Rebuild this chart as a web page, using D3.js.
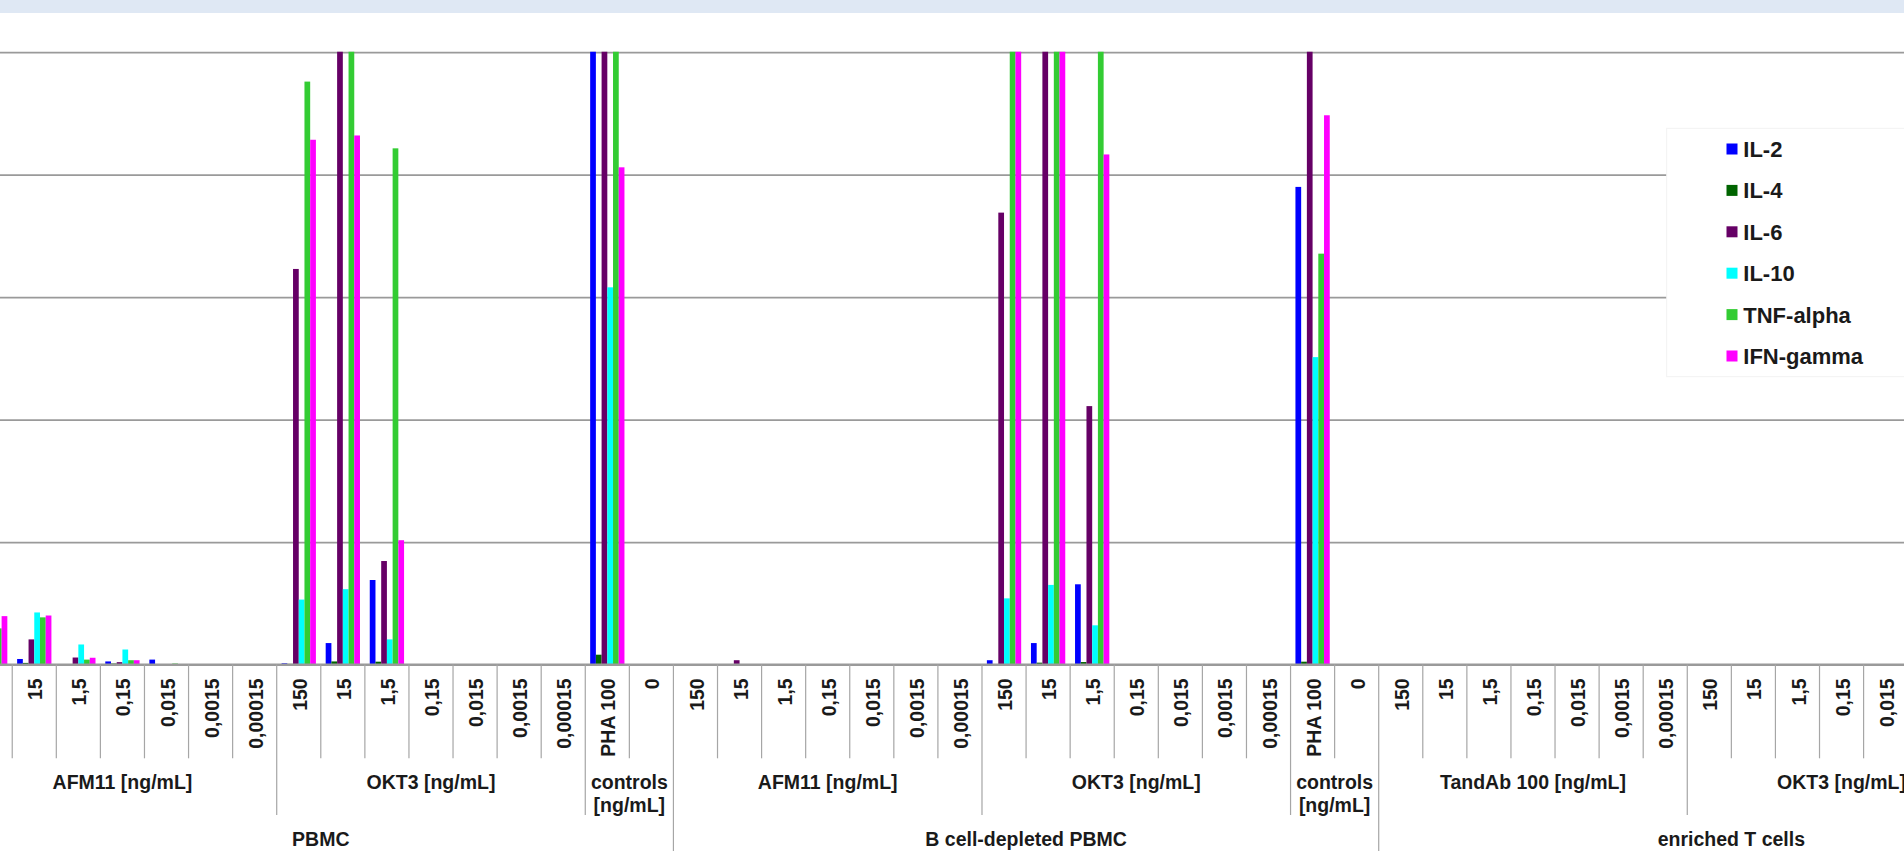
<!DOCTYPE html>
<html><head><meta charset="utf-8">
<script src="https://cdn.jsdelivr.net/npm/d3@7/dist/d3.min.js"></script>
<style>html,body{margin:0;padding:0;background:#fff;overflow:hidden}svg{display:block}</style>
</head><body>
<svg id="chart" width="1904" height="863"></svg>
<script>
// ---------- data ----------
const cellTypes = ["PBMC", "B cell-depleted PBMC", "enriched T cells"];
const treatments = [
  ["AFM11 [ng/mL]", "OKT3 [ng/mL]", "controls [ng/mL]"],
  ["AFM11 [ng/mL]", "OKT3 [ng/mL]", "controls [ng/mL]"],
  ["TandAb 100 [ng/mL]", "OKT3 [ng/mL]", "controls [ng/mL]"]
];
const doses = ["150", "15", "1,5", "0,15", "0,015", "0,0015", "0,00015"];
const controlDoses = ["PHA 100", "0"];
const seriesNames = ["IL-2", "IL-4", "IL-6", "IL-10", "TNF-alpha", "IFN-gamma"];
const seriesColors = ["#0000ff", "#006400", "#660066", "#00ffff", "#33cc33", "#ff00ff"];
const yTicks = [0, 200, 400, 600, 800, 1000];

// values per category (PBMC: AFM11 x7, OKT3 x7, controls x2; B cell-depleted: same; enriched T cells: TandAb x7, OKT3 x7, controls x2)
const il2 = [5, 9, 0.5, 5, 8, 0, 0,   2, 35, 138, 0, 0, 0, 0,   1400, 0,
             0, 0, 0, 0, 0, 0, 0,     7, 35, 131, 0, 0, 0, 0,   780, 0,
             0, 0, 0, 0, 0, 0, 0,     0, 0, 0, 0, 0, 0, 0,      0, 0];
const il4 = [2, 2.6, 0.5, 1.6, 0, 0, 0,  1, 5, 4.6, 0, 0, 0, 0,  16, 0,
             0, 0, 0, 0, 0, 0, 0,        0, 3, 4, 0, 0, 0, 0,    4.6, 0,
             0, 0, 0, 0, 0, 0, 0,        0, 0, 0, 0, 0, 0, 0,    0, 0];
const il6 = [30, 41, 11.4, 3.8, 0, 0, 0,  646, 1400, 169, 0, 0, 0, 0,  1400, 0,
             0, 7, 0, 0, 0, 0, 0,         738, 1400, 422, 0, 0, 0, 0,  1400, 0,
             0, 0, 0, 0, 0, 0, 0,         0, 0, 0, 0, 0, 0, 0,         0, 0];
const il10 = [60, 85, 32.7, 24.5, 0, 0, 0,  106, 123, 41, 0, 0, 0, 0,  616, 0,
              0, 0, 0, 0, 0, 0, 0,          108, 130, 64, 0, 0, 0, 0,  502, 0,
              0, 0, 0, 0, 0, 0, 0,          0, 0, 0, 0, 0, 0, 0,       0, 0];
const tnfAlpha = [59, 77, 8, 7, 1.6, 0, 0,  952, 1400, 843, 0, 0, 0, 0,  1400, 0,
                  0, 0, 0, 0, 0, 0, 0,      1400, 1400, 1400, 0, 0, 0, 0,  671, 0,
                  0, 0, 0, 0, 0, 0, 0,      0, 0, 0, 0, 0, 0, 0,      0, 0];
const ifnGamma = [79, 80, 11, 7, 0, 0, 0,  857, 864, 203, 0, 0, 0, 0,  812, 0,
                  0, 0, 0, 0, 0, 0, 0,     1400, 1400, 833, 0, 0, 0, 0,  897, 0,
                  0, 0, 0, 0, 0, 0, 0,     0, 0, 0, 0, 0, 0, 0,      0, 0];
const seriesValues = [il2, il4, il6, il10, tnfAlpha, ifnGamma];

// ---------- layout ----------
const W = 1904, H = 863;
const X0 = -31.85, STEP = 44.08;
const Y_BASE = 664.5, Y_TOP = 52.2;
const FONT = "'Liberation Sans', Arial, Helvetica, sans-serif";

const cats = [];
cellTypes.forEach((c, ci) => {
  treatments[ci].forEach((t, ti) => {
    const ds = ti < 2 ? doses : controlDoses;
    ds.forEach(d => cats.push({cell: c, ci, treat: t, ti, dose: d, key: ci + "|" + ti + "|" + d}));
  });
});

const svg = d3.select("#chart");
svg.append("rect").attr("x", 0).attr("y", 0).attr("width", W).attr("height", 13).attr("fill", "#dfe8f4");

const x = d3.scaleBand().domain(cats.map(d => d.key)).range([X0, X0 + cats.length * STEP]).padding(0);
const xs = d3.scaleBand().domain(seriesNames).range([0, x.bandwidth()]).paddingInner(0).paddingOuter(0.856);
const y = d3.scaleLinear().domain([0, 1000]).range([Y_BASE, Y_TOP]);

// gridlines via axis
const grid = svg.append("g").attr("transform", "translate(0,0)")
  .call(d3.axisLeft(y).tickValues(yTicks).tickSize(-W).tickFormat(""));
grid.select(".domain").remove();
grid.selectAll(".tick line").attr("stroke", "#9a9a9a").attr("stroke-width", 1.8);

// clip
svg.append("clipPath").attr("id", "plotclip").append("rect")
  .attr("x", -100).attr("y", Y_TOP - 0.5).attr("width", W + 200).attr("height", Y_BASE - Y_TOP + 0.5);

const barsG = svg.append("g").attr("clip-path", "url(#plotclip)");
seriesNames.forEach((s, si) => {
  barsG.append("g").selectAll("rect")
    .data(cats.map((c, i) => ({c, v: seriesValues[si][i]})).filter(d => d.v > 0))
    .join("rect")
    .attr("x", d => x(d.c.key) + xs(s))
    .attr("width", xs.bandwidth())
    .attr("y", d => y(d.v))
    .attr("height", d => Y_BASE - y(d.v))
    .attr("fill", seriesColors[si]);
});

// x axis baseline
svg.append("line").attr("x1", 0).attr("x2", W).attr("y1", Y_BASE).attr("y2", Y_BASE)
  .attr("stroke", "#9a9a9a").attr("stroke-width", 1.8);

// category boundary lines (multi-level)
const axisG = svg.append("g");
for (let i = 0; i <= cats.length; i++) {
  const bx = X0 + i * STEP;
  let yEnd = 758.3;
  const prev = cats[i - 1], cur = cats[i];
  if (!prev || !cur || prev.ci !== cur.ci) yEnd = 851;
  else if (prev.ti !== cur.ti) yEnd = 815;
  axisG.append("line").attr("x1", bx).attr("x2", bx).attr("y1", Y_BASE).attr("y2", yEnd)
    .attr("stroke", "#a6a6a6").attr("stroke-width", 1.2);
}

// dose labels
axisG.selectAll("text.dose").data(cats).join("text").attr("class", "dose")
  .attr("transform", d => `translate(${x(d.key) + x.bandwidth() / 2 + 1},678.3) rotate(-90)`)
  .attr("text-anchor", "end").attr("dy", "0.36em")
  .attr("font-family", FONT).attr("font-weight", "bold").attr("font-size", "19.5px").attr("fill", "#1a1a1a")
  .text(d => d.dose);

// treatment labels
const groups = d3.groups(cats, d => d.ci + "|" + d.ti).map(([k, arr]) => ({
  label: arr[0].treat, x1: x(arr[0].key), x2: x(arr[arr.length - 1].key) + x.bandwidth(), n: arr.length
}));
groups.forEach(g => {
  const cx = (g.x1 + g.x2) / 2;
  const lines = g.n <= 2 ? g.label.split(" ") : [g.label];
  const t = axisG.append("text").attr("x", cx).attr("y", 781.7).attr("dy", "0.36em")
    .attr("text-anchor", "middle").attr("font-family", FONT).attr("font-weight", "bold")
    .attr("font-size", "19.5px").attr("fill", "#1a1a1a");
  lines.forEach((ln, li) => t.append("tspan").attr("x", cx).attr("dy", li === 0 ? "0.36em" : "23.3px").text(ln));
});

// cell type labels
const cells = d3.groups(cats, d => d.ci).map(([k, arr]) => ({
  label: arr[0].cell, x1: x(arr[0].key), x2: x(arr[arr.length - 1].key) + x.bandwidth()
}));
cells.forEach(c => {
  axisG.append("text").attr("x", (c.x1 + c.x2) / 2).attr("y", 839.3).attr("dy", "0.36em")
    .attr("text-anchor", "middle").attr("font-family", FONT).attr("font-weight", "bold")
    .attr("font-size", "19.5px").attr("fill", "#1a1a1a").text(c.label);
});

// legend
const lg = svg.append("g");
lg.append("rect").attr("x", 1666.7).attr("y", 128.3).attr("width", 300).attr("height", 248.4)
  .attr("fill", "#ffffff").attr("stroke", "#f2f2f2").attr("stroke-width", 1);
const ly = d3.scalePoint().domain(seriesNames).range([149, 356]);
seriesNames.forEach((s, si) => {
  lg.append("rect").attr("x", 1726.5).attr("y", ly(s) - 5.5).attr("width", 11).attr("height", 11)
    .attr("fill", seriesColors[si]);
  lg.append("text").attr("x", 1743.3).attr("y", ly(s)).attr("dy", "0.36em")
    .attr("font-family", FONT).attr("font-weight", "bold").attr("font-size", "22px")
    .attr("fill", "#1a1a1a").text(s);
});
</script>
</body></html>
